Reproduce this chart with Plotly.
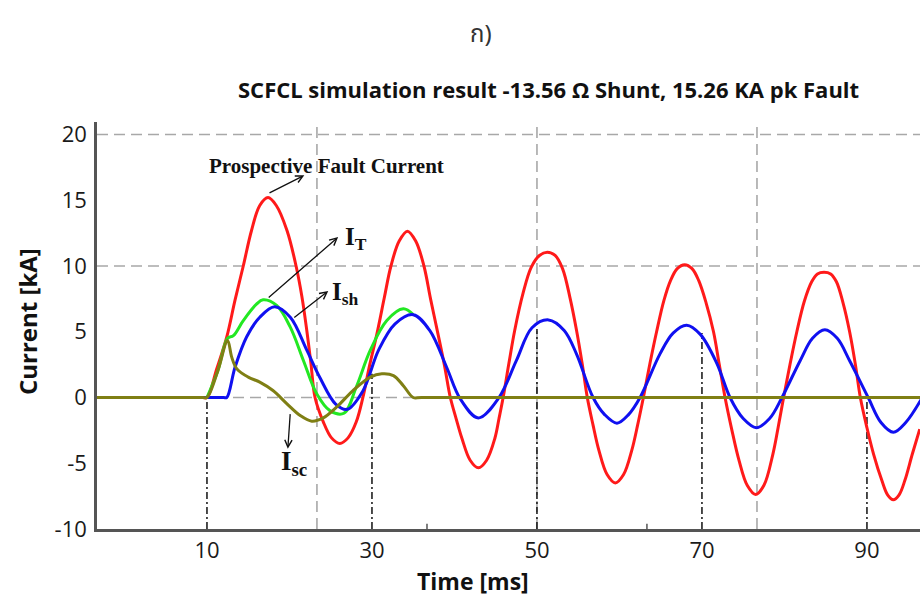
import plotly.graph_objects as go

# ---------------- data ----------------
# Prospective fault current (red)
red_t = [-3.4, 9.5, 10.0, 11.2, 12.4, 13.4, 14.4, 15.4, 16.4, 17.4, 18.4, 19.7, 20.8, 21.5, 22.1, 22.6,
         23.1, 24.1, 25.1, 26.1, 27.1, 28.1,
         28.9, 29.7, 30.6, 31.5, 32.3, 33.3, 34.3, 35.3, 36.3, 37.1, 38.0, 38.8,
         39.5, 40.2, 40.9, 41.9, 42.9, 43.9, 44.9, 45.4,
         45.9, 46.6, 47.3, 48.3, 49.3, 50.3, 51.25, 52.2, 53.1, 54.0, 54.8, 55.5,
         56.1, 56.8, 57.5, 58.5, 59.5, 60.5, 61.5, 62.2,
         62.9, 63.7, 64.5, 65.4, 66.2, 67.0, 67.9, 68.8, 69.6, 70.5, 71.4, 72.1,
         72.8, 73.6, 74.5, 75.5, 76.5, 77.5, 78.6, 79.2,
         79.9, 80.7, 81.5, 82.4, 83.3, 84.0, 84.8, 85.6, 86.3, 87.1, 87.9, 88.6,
         89.2, 90.0, 90.8, 91.8, 92.5, 93.2, 93.9, 94.6, 95.5, 96.4]
red_i = [0, 0, 0, 2.2, 4.6, 7.4, 10.0, 12.7, 14.6, 15.2, 14.6, 12.7, 10.0, 7.7, 5.1, 2.6,
         0, -1.85, -3.07, -3.5, -3.07, -1.85,
         0, 2.4, 4.84, 7.6, 10.0, 11.9, 12.65, 11.9, 10.0, 7.5, 4.84, 2.4,
         0, -1.6, -3.1, -4.77, -5.35, -4.77, -3.1, -1.6,
         0, 2.6, 5.1, 7.9, 9.9, 10.8, 11.05, 10.8, 9.8, 7.6, 5.1, 2.5,
         0, -2.1, -4.0, -5.86, -6.5, -5.86, -4.0, -2.1,
         0, 2.6, 5.0, 7.4, 8.9, 9.8, 10.1, 9.8, 8.9, 7.2, 5.0, 2.5,
         0, -2.4, -4.8, -6.7, -7.38, -6.7, -4.3, -2.4,
         0, 2.6, 5.0, 7.3, 8.8, 9.4, 9.53, 9.4, 8.8, 7.2, 5.0, 2.5,
         0, -2.3, -4.3, -6.3, -7.4, -7.78, -7.4, -6.3, -4.3, -2.4]

# Total current I_T (green)
green_t = [10.0, 11.3, 12.5, 13.2, 14.4, 16.0, 16.8, 18.45, 20.1, 21.7, 23.3, 24.9, 26.6, 28.1,
           29.8, 31.8, 33.8, 35.0]
green_i = [0, 2.0, 4.5, 4.7, 5.85, 7.1, 7.43, 7.0, 5.35, 2.8, 0.28, -1.0, -1.2, 0.8,
           3.6, 5.85, 6.74, 6.3]

# Shunt current I_sh (blue)
blue_t = [-3.4, 12.0, 12.4, 13.4, 14.8, 16.4, 18.2, 20.1, 22.1, 23.7, 25.6, 27.0, 28.9, 30.8,
          32.8, 35.0, 37.0, 39.05, 40.7, 42.9, 45.4, 47.5, 49.4, 51.4, 53.3, 54.8, 56.8, 58.2,
          59.7, 61.1, 62.5, 64.9, 66.5, 68.15, 69.8, 71.8, 73.4, 75.0, 76.6, 78.2, 79.7, 81.9,
          83.4, 84.9, 86.4, 87.9, 90.15, 91.7, 93.2, 94.7, 96.8]
blue_i = [0, 0, 0, 2.3, 4.6, 6.1, 6.9, 6.1, 3.6, 1.5, -0.5, -0.9, 0.5, 3.6,
          5.6, 6.3, 5.1, 2.3, -0.1, -1.55, 0, 2.8, 5.3, 5.9, 5.1, 3.3, 0, -1.3,
          -1.95, -1.3, 0, 3.3, 4.9, 5.5, 4.8, 2.6, 0, -1.6, -2.3, -1.6, 0, 2.8,
          4.5, 5.15, 4.5, 2.8, 0, -1.9, -2.64, -1.9, 0.1]

# Superconductor current I_sc (olive)
olive_t = [-3.4, 9.5, 10.0, 11.3, 12.5, 13.0, 13.6, 15.0, 16.4, 18.0, 19.7, 21.3, 22.7, 24.1,
           25.7, 27.7, 29.8, 31.2, 32.6, 33.8, 35.0, 36.0, 96.8]
olive_i = [0, 0, 0, 2.0, 4.33, 3.07, 2.2, 1.55, 1.17, 0.53, -0.48, -1.37, -1.8, -1.55,
           -0.74, 0.53, 1.55, 1.8, 1.67, 0.9, 0, 0, 0]

y_tick_vals = [-10, -5, 0, 5, 10, 15, 20]
y_tick_text = ["-10", "-5", "0", "5", "10", "15", "20"]
x_tick_vals = [10, 30, 50, 70, 90]
x_tick_text = ["10", "30", "50", "70", "90"]
grid_x = [23.33, 50.0, 76.67]
grid_y = [0, 10, 20]
minor_x = [36.67, 63.33]
mark_x = [10, 30, 50, 70, 90]
mark_top = [0, 1.8, 5.2, 4.9, 0]

X_RANGE = [-3.33, 96.43]
Y_RANGE = [-10, 20.95]

fig = go.Figure()

def add_line(t, i, color, name):
    fig.add_trace(go.Scatter(x=t, y=i, mode="lines", name=name,
                             line=dict(color=color, width=3, shape="spline", smoothing=1.0),
                             hoverinfo="skip", showlegend=False))

add_line(red_t, red_i, "#ff1a1a", "Prospective Fault Current")
add_line(green_t, green_i, "#22e822", "I_T")
add_line(blue_t, blue_i, "#1010f0", "I_sh")
add_line(olive_t, olive_i, "#7f7f14", "I_sc")

shapes = []
for gy in grid_y:
    shapes.append(dict(type="line", xref="x", yref="y", x0=X_RANGE[0], x1=X_RANGE[1], y0=gy, y1=gy,
                       line=dict(color="#a8a8a8", width=1.6, dash="11px,6px"), layer="below"))
for gx in grid_x:
    shapes.append(dict(type="line", xref="x", yref="y", x0=gx, x1=gx, y0=Y_RANGE[0], y1=Y_RANGE[1],
                       line=dict(color="#a8a8a8", width=1.6, dash="11px,6px"), layer="below"))
for mx, mt in zip(mark_x, mark_top):
    shapes.append(dict(type="line", xref="x", yref="y", x0=mx, x1=mx, y0=Y_RANGE[0], y1=mt,
                       line=dict(color="#111111", width=1.5, dash="7px,3px,2px,3px"), layer="below"))
for mx in minor_x:
    shapes.append(dict(type="line", xref="x", yref="y", x0=mx, x1=mx, y0=Y_RANGE[0], y1=Y_RANGE[0] + 0.4,
                       line=dict(color="#555555", width=1.5)))

serif = "Liberation Serif, Times New Roman, serif"
sans = "Open Sans, Noto Sans, sans-serif"

annotations = [
    dict(text="ก)", xref="paper", yref="paper", x=0.4666, y=1.2138, showarrow=False,
         font=dict(family="Noto Sans Thai, Noto Sans, DejaVu Sans, sans-serif", size=24, color="#333333"),
         xanchor="center", yanchor="middle"),
    dict(text="<b>SCFCL simulation result -13.56 Ω Shunt, 15.26 KA pk Fault</b>", xref="paper", yref="paper",
         x=0.548, y=1.081, showarrow=False, font=dict(family=sans, size=22, color="#111111"),
         xanchor="center", yanchor="middle"),
    dict(text="<b>Current [kA]</b>", xref="paper", yref="paper", x=-0.0838, y=0.5086, showarrow=False,
         textangle=-90, font=dict(family=sans, size=24, color="#111111"), xanchor="center", yanchor="middle"),
    dict(text="<b>Time [ms]</b>", xref="paper", yref="paper", x=0.4569, y=-0.1278, showarrow=False,
         font=dict(family=sans, size=23, color="#111111"), xanchor="center", yanchor="middle"),
    # labels
    dict(text="<b>Prospective Fault Current</b>", x=24.5, y=17.6, xref="x", yref="y", showarrow=False,
         font=dict(family=serif, size=21, color="#111111"), xanchor="center", yanchor="middle"),
    dict(text="<b>I<sub>T</sub></b>", x=26.5, y=12.1, xref="x", yref="y", showarrow=False,
         font=dict(family=serif, size=25, color="#111111"), xanchor="left", yanchor="middle"),
    dict(text="<b>I<sub>sh</sub></b>", x=24.9, y=7.9, xref="x", yref="y", showarrow=False,
         font=dict(family=serif, size=25, color="#111111"), xanchor="left", yanchor="middle"),
    dict(text="<b>I<sub>sc</sub></b>", x=20.5, y=-5.0, xref="x", yref="y", showarrow=False,
         font=dict(family=serif, size=27, color="#111111"), xanchor="center", yanchor="middle"),
]

# arrows: (head_x, head_y, tail_x, tail_y)
arrows = [(21.8, 16.9, 17.4, 15.5), (25.9, 12.2, 17.3, 7.5), (24.7, 8.1, 20.4, 6.0), (19.8, -3.9, 20.1, -1.15)]
for hx, hy, tx, ty in arrows:
    annotations.append(dict(text="", x=hx, y=hy, ax=tx, ay=ty, xref="x", yref="y", axref="x", ayref="y",
                            showarrow=True, arrowhead=5, arrowsize=1.1, arrowwidth=1.3, arrowcolor="#111111"))

fig.update_layout(
    width=920, height=596,
    margin=dict(l=97, r=0, t=122, b=67),
    paper_bgcolor="white", plot_bgcolor="white",
    shapes=shapes, annotations=annotations,
    xaxis=dict(range=X_RANGE, tickvals=x_tick_vals, ticktext=x_tick_text, showgrid=False, zeroline=False,
               showline=True, linecolor="#555555", linewidth=2.5, ticks="",
               tickfont=dict(family=sans, size=22, color="#1a1a1a")),
    yaxis=dict(range=Y_RANGE, tickvals=y_tick_vals, ticktext=y_tick_text, showgrid=False, zeroline=False,
               showline=True, linecolor="#555555", linewidth=2.5, ticks="", ticklabelstandoff=3,
               tickfont=dict(family=sans, size=22, color="#1a1a1a")),
)

fig.write_html("out.html", config={"displayModeBar": False},
               post_script="document.body.style.margin='0px';")
